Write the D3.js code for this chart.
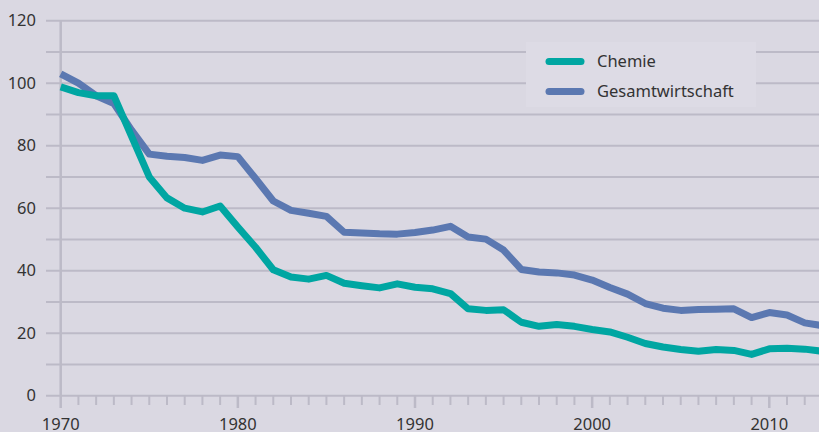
<!DOCTYPE html>
<meta charset="utf-8"/>
<style>
  body { margin: 0; background: #dad8e2; }
  svg { display: block; font-family: "Noto Sans", sans-serif; }
  .grid line { stroke: #bcbac7; stroke-width: 2px; }
  .lbl { fill: #333; font-size: 16.5px; }
</style>
<svg width="819" height="432"></svg>
<script src="https://d3js.org/d3.v7.min.js"></script>
<script>

  // data (index, 1970 = 100-ish)
  var years = d3.range(1970, 2014);
  var chemie = [98.8, 97, 96, 96, 83, 70, 63.3, 60, 58.8, 60.7,
    54, 47.5, 40.3, 38, 37.3, 38.5, 36, 35.2, 34.5, 35.8,
    34.7, 34.2, 32.7, 27.8, 27.3, 27.5, 23.5, 22.2, 22.8, 22.2,
    21.2, 20.4, 18.7, 16.7, 15.6, 14.8, 14.2, 14.8, 14.5, 13.2,
    15, 15.2, 14.9, 14.2];
  var gesamt = [103, 100, 96, 93.5, 85, 77.3, 76.6, 76.2, 75.3, 77,
    76.5, 69.5, 62.3, 59.3, 58.4, 57.4, 52.3, 52.1, 51.8, 51.7,
    52.2, 53, 54.2, 50.8, 50.1, 46.6, 40.4, 39.6, 39.3, 38.6,
    37, 34.6, 32.5, 29.5, 28, 27.3, 27.6, 27.7, 27.8, 25,
    26.6, 25.8, 23.3, 22.4];
  var seriesNames = ["Chemie", "Gesamtwirtschaft"];
  var yTicks = [0, 20, 40, 60, 80, 100, 120];
  var xTicks = [1970, 1980, 1990, 2000, 2010];

  var svg = d3.select("svg"),
    width = +svg.attr("width"),
    height = +svg.attr("height");

  var color = ["#00a6a2", "#5b78b1"];

  var x = d3.scaleLinear().domain([1970, 2010]).range([60.7, 769.3]);
  var y = d3.scaleLinear().domain([0, 120]).range([395.7, 20.7]);

  svg.append("clipPath").attr("id", "clip")
    .append("rect").attr("x", 0).attr("y", 0).attr("width", width).attr("height", height);

  // horizontal gridlines every 10
  var grid = svg.append("g").attr("class", "grid");
  grid.selectAll(".h")
    .data(d3.range(0, 121, 10))
    .enter().append("line")
    .attr("x1", 46).attr("x2", width)
    .attr("y1", function (d) { return y(d); })
    .attr("y2", function (d) { return y(d); });

  // vertical axis line
  grid.append("line")
    .attr("x1", x(1970)).attr("x2", x(1970))
    .attr("y1", y(120)).attr("y2", 408)
    .style("stroke-width", "2.5px");

  // year ticks
  grid.selectAll(".t")
    .data(d3.range(1971, 2014))
    .enter().append("line")
    .attr("x1", function (d) { return x(d); })
    .attr("x2", function (d) { return x(d); })
    .attr("y1", y(0))
    .attr("y2", function (d) { return d % 10 === 0 ? 408 : 405; })
    .style("stroke-width", function (d) { return d % 10 === 0 ? "2.5px" : "2px"; });

  svg.selectAll(".ylab")
    .data(yTicks)
    .enter().append("text")
    .attr("class", "lbl")
    .attr("x", 36)
    .attr("y", function (d) { return y(d); })
    .attr("dy", "0.35em")
    .attr("text-anchor", "end")
    .text(function (d) { return d; });

  svg.selectAll(".xlab")
    .data(xTicks)
    .enter().append("text")
    .attr("class", "lbl")
    .attr("x", function (d) { return x(d); })
    .attr("y", 430)
    .attr("text-anchor", "middle")
    .text(function (d) { return d; });

  // legend
  var leg = svg.append("g");
  leg.append("rect")
    .attr("x", 526).attr("y", 42).attr("width", 230).attr("height", 65)
    .attr("fill", "#dddbe5");
  seriesNames.forEach(function (name, i) {
    var ly = 61.5 + i * 30;
    leg.append("line")
      .attr("x1", 549).attr("x2", 581)
      .attr("y1", ly).attr("y2", ly)
      .attr("stroke", color[i]).attr("stroke-width", 7)
      .attr("stroke-linecap", "round");
    leg.append("text")
      .attr("class", "lbl")
      .attr("x", 597).attr("y", ly)
      .attr("dy", "0.35em")
      .text(name);
  });

  var line = d3.line()
    .x(function (d, i) { return x(years[i]); })
    .y(function (d) { return y(d); });

  [gesamt, chemie].forEach(function (s, k) {
    svg.append("path")
      .datum(s)
      .attr("clip-path", "url(#clip)")
      .attr("fill", "none")
      .attr("stroke", k === 0 ? color[1] : color[0])
      .attr("stroke-width", 7)
      .attr("stroke-linejoin", "round")
      .attr("d", line);
  });

</script>
